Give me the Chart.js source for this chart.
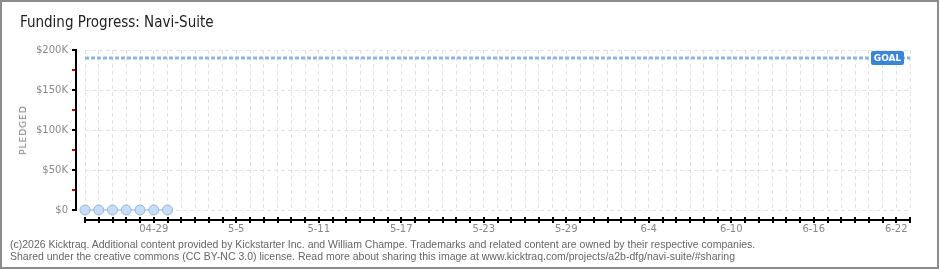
<!DOCTYPE html>
<html><head><meta charset="utf-8">
<script src="https://cdn.jsdelivr.net/npm/chart.js@4.4.1/dist/chart.umd.min.js"></script>
<style>
html,body{margin:0;padding:0;background:#fff;}
#wrap{position:relative;width:940px;height:270px;overflow:hidden;background:#fff;}
#frame{position:absolute;left:0;top:0;width:939px;height:269px;box-sizing:border-box;border:2px solid #8c8c8c;pointer-events:none;}
canvas{position:absolute;left:0;top:0;}
#title{position:absolute;left:20px;top:13px;font:15px "DejaVu Sans Condensed";color:#222;white-space:nowrap;}
#ylab{position:absolute;left:23px;top:130px;transform:translate(-50%,-50%) rotate(-90deg);font:9px "DejaVu Sans";letter-spacing:1px;color:#777;white-space:nowrap;}
#foot{position:absolute;left:10px;top:238px;font:10.5px "Liberation Sans";color:#666;line-height:12px;white-space:nowrap;}
</style></head>
<body>
<div id="wrap">
<canvas id="c" width="940" height="270"></canvas>
<div id="title">Funding Progress: Navi-Suite</div>
<div id="ylab">PLEDGED</div>
<div id="foot">(c)2026 Kicktraq. Additional content provided by Kickstarter Inc. and William Champe. Trademarks and related content are owned by their respective companies.<br>Shared under the creative commons (CC BY-NC 3.0) license. Read more about sharing this image at www.kicktraq.com/projects/a2b-dfg/navi-suite/#sharing</div>
<div id="frame"></div>
</div>
<script>
// Categories: one per day
const categories = [
 "04-24","04-25","04-26","04-27","04-28","04-29","04-30",
 "05-01","05-02","05-03","05-04","05-05","05-06","05-07","05-08","05-09","05-10",
 "05-11","05-12","05-13","05-14","05-15","05-16","05-17","05-18","05-19","05-20",
 "05-21","05-22","05-23","05-24","05-25","05-26","05-27","05-28","05-29","05-30","05-31",
 "06-01","06-02","06-03","06-04","06-05","06-06","06-07","06-08","06-09","06-10",
 "06-11","06-12","06-13","06-14","06-15","06-16","06-17","06-18","06-19","06-20",
 "06-21","06-22","06-23"
];
// Pledged amounts (USD) for days with data
const pledged = [0, 0, 0, 0, 0, 0, 0];
const goal = 190000;
// Tick labels shown on the x axis
const tickDays = ["04-29","05-05","05-11","05-17","05-23","05-29","06-04","06-10","06-16","06-22"];
const tickText = ["04-29","5-5","5-11","5-17","5-23","5-29","6-4","6-10","6-16","6-22"];
// Y axis
const yMax = 200000;
const yStep = 50000;
const yMinorStep = 25000;

const goalData = categories.map(() => goal);

const axesPlugin = {
  id: 'customAxes',
  afterDraw(chart) {
    const {ctx, chartArea: a, scales: {x, y}} = chart;
    ctx.save();
    const ax = a.left - 9, ay = a.bottom + 10;
    ctx.strokeStyle = '#e00000'; ctx.lineWidth = 2;
    for (let v = yMinorStep; v < yMax; v += yStep) {
      const py = Math.round(y.getPixelForValue(v));
      ctx.beginPath(); ctx.moveTo(ax - 4, py); ctx.lineTo(ax, py); ctx.stroke();
    }
    ctx.strokeStyle = '#000';
    for (let v = 0; v <= yMax; v += yStep) {
      const py = Math.round(y.getPixelForValue(v));
      ctx.beginPath(); ctx.moveTo(ax - 4, py); ctx.lineTo(ax, py); ctx.stroke();
    }
    ctx.beginPath(); ctx.moveTo(ax, y.getPixelForValue(yMax) - 1); ctx.lineTo(ax, y.getPixelForValue(0) + 1); ctx.stroke();
    const x0 = x.getPixelForTick(0), x1 = x.getPixelForTick(categories.length - 1);
    ctx.beginPath(); ctx.moveTo(x0 - 1, ay); ctx.lineTo(x1 + 1, ay); ctx.stroke();
    for (let i = 0; i < categories.length; i++) {
      const px = Math.round(x.getPixelForTick(i));
      ctx.beginPath(); ctx.moveTo(px, ay - 3); ctx.lineTo(px, ay + 3); ctx.stroke();
    }
    const gy = y.getPixelForValue(goal);
    const bx = x1 - 39, bw = 33, bh = 14;
    ctx.fillStyle = '#3a86d6';
    ctx.beginPath();
    ctx.roundRect(bx, gy - 7, bw, bh, 2);
    ctx.fill();
    ctx.fillStyle = '#fff';
    ctx.font = 'bold 9px "DejaVu Sans"';
    ctx.textAlign = 'center'; ctx.textBaseline = 'middle';
    ctx.fillText('GOAL', bx + bw / 2, gy + 0.5);
    ctx.restore();
  }
};

new Chart(document.getElementById('c'), {
  type: 'line',
  data: {
    labels: categories,
    datasets: [
      {
        label: 'Goal', data: goalData, borderColor: '#8fb6e2', borderWidth: 3,
        borderDash: [4, 2], pointRadius: 0, fill: false, order: 2
      },
      {
        label: 'Pledged', data: pledged, borderColor: '#bcd5f0', borderWidth: 2,
        pointRadius: 5, pointBackgroundColor: '#c6ddf6', pointBorderColor: '#97b6dc',
        pointBorderWidth: 1, fill: false, order: 1, clip: false
      }
    ]
  },
  options: {
    responsive: false,
    animation: false,
    layout: {padding: {top: 50, right: 30, bottom: 0, left: 0}},
    plugins: {legend: {display: false}, tooltip: {enabled: false}, title: {display: false}},
    scales: {
      x: {
        type: 'category',
        offset: false,
        afterFit(s) { s.height = 60; },
        grid: {color: '#e2e2e2', lineWidth: 1, drawTicks: false},
        border: {display: false, dash: [4, 3]},
        ticks: {
          autoSkip: false, maxRotation: 0, padding: 13,
          color: '#888', font: {family: 'DejaVu Sans', size: 10},
          callback(value, index) {
            const k = tickDays.indexOf(categories[index]);
            return k >= 0 ? tickText[k] : '';
          }
        }
      },
      y: {
        min: 0, max: yMax,
        afterFit(s) { s.width = 85; },
        grid: {color: '#e2e2e2', lineWidth: 1, drawTicks: false},
        border: {display: false, dash: [4, 3]},
        ticks: {
          stepSize: yStep, padding: 17, color: '#888',
          font: {family: 'DejaVu Sans', size: 10},
          callback(v) { return v === 0 ? '$0' : '$' + (v / 1000) + 'K'; }
        }
      }
    }
  },
  plugins: [axesPlugin]
});
</script>
</body></html>
